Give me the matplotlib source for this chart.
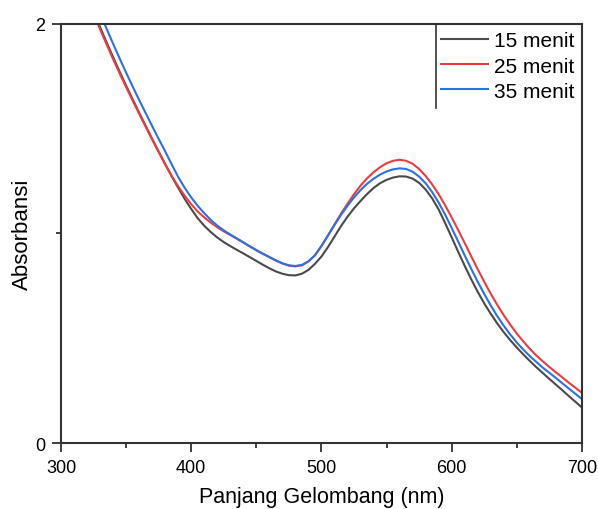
import matplotlib
matplotlib.use("Agg")
import matplotlib.pyplot as plt
from matplotlib.ticker import MultipleLocator
from matplotlib.lines import Line2D

plt.rcParams['font.family'] = ['Liberation Sans', 'DejaVu Sans']

wavelength = [325, 330, 335, 340, 345, 350, 355, 360, 365, 370, 375, 380, 385, 390, 395,
              400, 405, 410, 415, 420, 425, 430, 435, 440, 445, 450, 455, 460, 465, 470,
              475, 480, 485, 490, 495, 500, 505, 510, 515, 520, 525, 530, 535, 540, 545,
              550, 555, 560, 565, 570, 575, 580, 585, 590, 595, 600, 605, 610, 615, 620,
              625, 630, 635, 640, 645, 650, 655, 660, 665, 670, 675, 680, 685, 690, 695, 700]

abs_15 = [2.06, 1.985, 1.913, 1.842, 1.773, 1.706, 1.641, 1.577, 1.514, 1.452, 1.391, 1.331, 1.273, 1.218, 1.165,
          1.117, 1.073, 1.037, 1.007, 0.981, 0.959, 0.94, 0.922, 0.905, 0.887, 0.869, 0.851, 0.834, 0.819, 0.808,
          0.801, 0.800, 0.808, 0.826, 0.855, 0.89, 0.935, 0.985, 1.035, 1.08, 1.12, 1.155, 1.188, 1.217, 1.24,
          1.256, 1.267, 1.273, 1.272, 1.262, 1.242, 1.21, 1.168, 1.115, 1.05, 0.982, 0.913, 0.846, 0.782, 0.722,
          0.667, 0.617, 0.571, 0.529, 0.491, 0.456, 0.423, 0.392, 0.362, 0.334, 0.306, 0.279, 0.252, 0.224, 0.197, 0.170]

abs_25 = [2.05, 1.975, 1.903, 1.833, 1.765, 1.699, 1.635, 1.572, 1.51, 1.449, 1.389, 1.331, 1.275, 1.225, 1.18,
          1.14, 1.105, 1.077, 1.052, 1.03, 1.01, 0.993, 0.975, 0.957, 0.938, 0.92, 0.903, 0.887, 0.871, 0.857,
          0.847, 0.843, 0.848, 0.866, 0.896, 0.94, 0.99, 1.043, 1.094, 1.142, 1.187, 1.228, 1.263, 1.292, 1.316,
          1.335, 1.347, 1.352, 1.347, 1.333, 1.308, 1.275, 1.235, 1.188, 1.135, 1.077, 1.017, 0.955, 0.892, 0.83,
          0.77, 0.713, 0.66, 0.61, 0.565, 0.523, 0.485, 0.45, 0.418, 0.39, 0.363, 0.338, 0.313, 0.288, 0.264, 0.24]

abs_35 = [2.13, 2.05, 1.978, 1.906, 1.836, 1.768, 1.702, 1.638, 1.575, 1.513, 1.452, 1.392, 1.33, 1.27, 1.218,
          1.172, 1.132, 1.097, 1.065, 1.038, 1.015, 0.995, 0.977, 0.958, 0.939, 0.921, 0.904, 0.888, 0.872, 0.858,
          0.848, 0.845, 0.85, 0.867, 0.896, 0.94, 0.99, 1.04, 1.088, 1.132, 1.172, 1.207, 1.237, 1.261, 1.281,
          1.296, 1.306, 1.311, 1.308, 1.295, 1.272, 1.24, 1.198, 1.148, 1.09, 1.027, 0.962, 0.896, 0.832, 0.77,
          0.712, 0.657, 0.606, 0.56, 0.518, 0.48, 0.446, 0.415, 0.387, 0.36, 0.335, 0.311, 0.285, 0.26, 0.235, 0.21]

labels = ['15 menit', '25 menit', '35 menit']
colors = ['#4a4a4a', '#f03a3e', '#2a72e0']

fig = plt.figure(figsize=(5.98, 5.10), dpi=100)
ax = fig.add_axes([0.102, 0.1294, 0.871, 0.8216])

for y, lab, c in zip([abs_15, abs_25, abs_35], labels, colors):
    ax.plot(wavelength, y, color=c, lw=1.5, label=lab, solid_joinstyle='round')

ax.set_xlim(300, 700)
ax.set_ylim(0, 2)
ax.xaxis.set_major_locator(MultipleLocator(100))
ax.xaxis.set_minor_locator(MultipleLocator(50))
ax.yaxis.set_major_locator(MultipleLocator(2))
ax.yaxis.set_minor_locator(MultipleLocator(1))
ax.tick_params(which='major', direction='out', length=6.5, width=1.3, labelsize=13, color='#333333', pad=5)
ax.tick_params(which='minor', direction='out', length=3.5, width=1.3, color='#333333')
for s in ax.spines.values():
    s.set_linewidth(1.5)
    s.set_color('#333333')

ax.set_xlabel('Panjang Gelombang (nm)', fontsize=15.5, labelpad=7)
ax.set_ylabel('Absorbansi', fontsize=16, labelpad=1.5)

leg = ax.legend(loc='upper right', bbox_to_anchor=(1.0, 1.0), borderaxespad=0,
                frameon=False, fontsize=15, handlelength=2.25, handletextpad=0.3,
                labelspacing=0.3, borderpad=0.35)
for h in leg.get_lines():
    h.set_linewidth(1.5)

fig.canvas.draw()
bb = leg.get_window_extent().transformed(ax.transAxes.inverted())
ax.add_line(Line2D([bb.x0 + 0.005, bb.x0 + 0.005], [bb.y0, 1.0], transform=ax.transAxes,
                   color='#333333', lw=1.2, clip_on=False))

fig.savefig('out.png', dpi=100)
